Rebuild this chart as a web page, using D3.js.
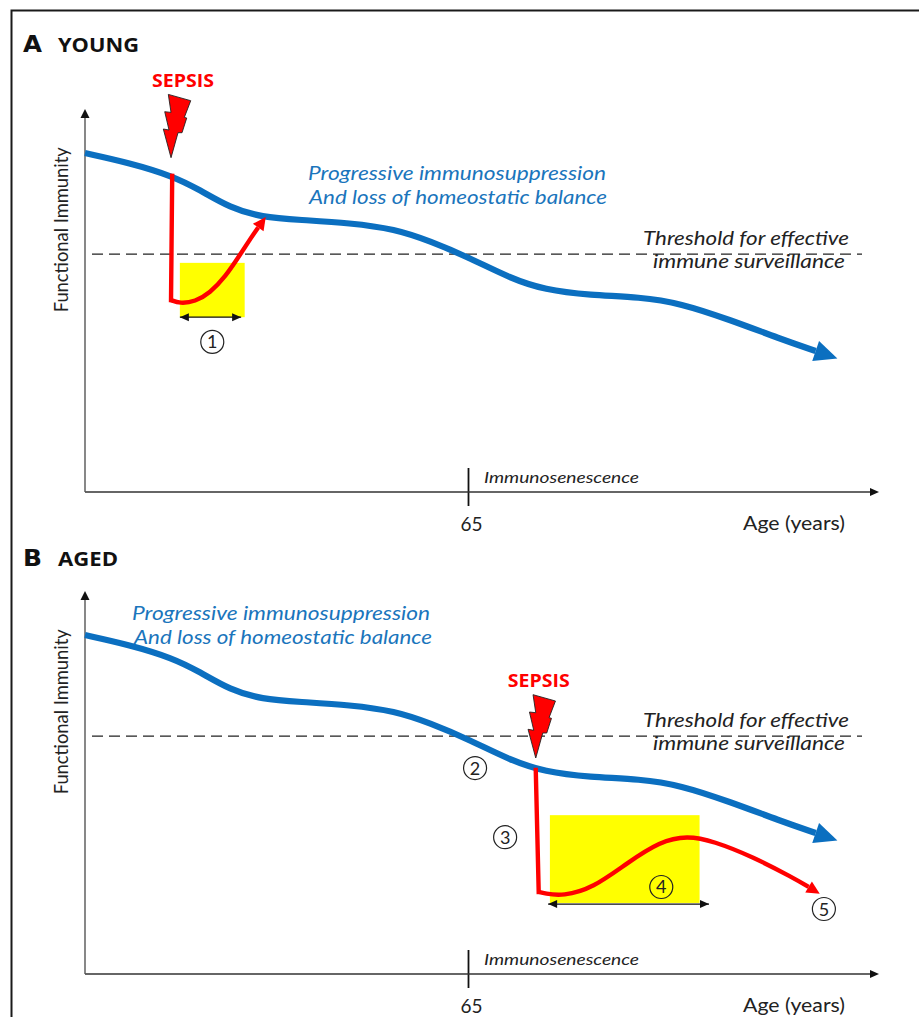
<!DOCTYPE html>
<html><head><meta charset="utf-8">
<script src="https://cdn.jsdelivr.net/npm/d3@7"></script>
<style>html,body{margin:0;padding:0;background:#fff}svg{display:block}text{font-family:Lato,sans-serif}</style>
</head><body><svg id="c" width="920" height="1017"></svg>
<script>
const panels=[{id:"A",title:"YOUNG",titleWidth:81},{id:"B",title:"AGED",titleWidth:60}];
const blueAges=[0,7.6,14.8,19.5,24.6,30,36.5,45,52.6,58.6,65.3,72.1,78,85.7,94.2,101,109.5,118,124];
const blueImmunity=[89.2,86.6,83.2,79.5,74.8,72.3,71.6,70.8,69.2,66,61.6,56.3,53.2,51.8,51.3,49.7,45.3,40.3,37.1];
const threshold=62.6;
const tickAge=65;
const redYoungDropAges=[14.8,14.6];
const redYoungDropImmunity=[83.2,50.5];
const redYoungAges=[14.6,16.1,18.7,21.2,23.8,26.3,28.3,29.4];
const redYoungImmunity=[50.5,49.6,50.1,52.4,56.6,62.4,67.2,69.6];
const redAgedDropAges=[76.5,77];
const redAgedDropImmunity=[53.7,21.6];
const redAgedAges=[77,78,81.1,86.2,92,97.6,102.2,106.6,113.4,120.2,122.8];
const redAgedImmunity=[21.6,21.2,20.5,22.6,29.2,34.9,36.4,35,30.8,25.3,22.9];
const yellowYoung={a0:16.1,a1:27.1,i0:46,i1:60.3};
const yellowAged={a0:78.9,a1:104.3,i0:18.7,i1:41.8};
const spanYoung={a0:16.1,a1:26.5,i:46};
const spanAged={a0:78.6,a1:105.9,i:18.4};
const circledYoung=[{n:"1",a:21.6,i:39.5}];
const circledAged=[{n:"2",a:66.2,i:54.2},{n:"3",a:71.3,i:36},{n:"4",a:97.8,i:22.9},{n:"5",a:125.4,i:17.1}];
const sepsisYoungAge=14.6, sepsisAgedAge=76.5;

const svg=d3.select("#c");
const ink="#111";
const x=d3.scaleLinear().domain([0,130]).range([85,851]);
const y=d3.scaleLinear().domain([0,100]).range([380,0]);
const curve=d3.line().x(d=>x(d[0])).y(d=>y(d[1])).curve(d3.curveBasis);
const straight=d3.line().x(d=>x(d[0])).y(d=>y(d[1]));

svg.append("path").attr("d","M11.5,1017V10.5H919").attr("fill","none").attr("stroke","#1a1a1a").attr("stroke-width",2);

function label(g,px,py,str,size,width,opts={}){
  const t=g.append("text").attr("x",px).attr("y",py).attr("font-size",size).attr("fill",opts.fill||"#222").text(str)
    .attr("textLength",width).attr("lengthAdjust","spacingAndGlyphs");
  if(opts.italic)t.attr("font-style","italic");
  if(opts.bold)t.attr("font-weight",700);
  if(opts.family)t.style("font-family",opts.family);
  return t;
}
function head(g,p0,p1,len,wid,fill){
  const ang=Math.atan2(p1[1]-p0[1],p1[0]-p0[0])*180/Math.PI;
  g.append("path").attr("d",`M${len},0L0,${-wid/2}L0,${wid/2}Z`).attr("fill",fill)
   .attr("transform",`translate(${p1[0]},${p1[1]}) rotate(${ang})`);
}
function arrowLine(g,ages,imm,color,w,len,wid){
  const pts=ages.map((a,i)=>[a,imm[i]]);
  g.append("path").attr("d",curve(pts)).attr("fill","none").attr("stroke",color).attr("stroke-width",w);
  const n=pts.length;
  head(g,[x(pts[n-2][0]),y(pts[n-2][1])],[x(pts[n-1][0]),y(pts[n-1][1])],len,wid,color);
}
function drop(g,ages,imm,color,w){
  g.append("path").attr("d",straight(ages.map((a,i)=>[a,imm[i]]))).attr("fill","none").attr("stroke",color).attr("stroke-width",w).attr("stroke-linecap","square");
}
const boltShape=[[-2.7,-63.3],[19.7,-57],[13.3,-40.3],[15.7,-39.7],[11,-25],[7,-25],[0,0],[-7.7,-28.7],[-2,-27.7],[-6.3,-46],[0,-45.3]];
function bolt(g,a,tipY){
  const tx=x(a);
  g.append("path").attr("d",d3.line()(boltShape.map(p=>[tx+p[0],tipY+p[1]]))+"Z").attr("fill","#f00").attr("stroke","#222").attr("stroke-width",.9);
}
function circled(g,c){
  const cx=x(c.a), cy=y(c.i);
  g.append("circle").attr("cx",cx).attr("cy",cy).attr("r",11.5).attr("fill","none").attr("stroke","#222").attr("stroke-width",1.2);
  g.append("text").attr("x",cx).attr("y",cy+6.5).attr("text-anchor","middle").attr("font-size",18).attr("fill","#222").text(c.n);
}
function rect(g,r){
  g.append("rect").attr("x",x(r.a0)).attr("y",y(r.i1)).attr("width",x(r.a1)-x(r.a0)).attr("height",y(r.i0)-y(r.i1)).attr("fill","#ffff00");
}
function span(g,s){
  const a=x(s.a0),b=x(s.a1),v=y(s.i);
  g.append("line").attr("x1",a).attr("x2",b).attr("y1",v).attr("y2",v).attr("stroke",ink).attr("stroke-width",1.2);
  head(g,[a+18,v],[a+9,v],9,8,ink); head(g,[b-18,v],[b-9,v],9,8,ink);
}
function blueLabel(g,px,py,dx){
  label(g,px,py,"Progressive immunosuppression",18.5,298,{italic:true,fill:"#1a75bc"});
  label(g,px+dx,py+24,"And loss of homeostatic balance",18.5,298,{italic:true,fill:"#1a75bc"});
}
function panel(p,offset,titleY){
  const g=svg.append("g").attr("transform",`translate(0,${offset})`);
  label(g,23,titleY,p.id,23,19,{bold:true,fill:ink,family:"'DejaVu Sans'"});
  label(g,58,titleY,p.title,19,p.titleWidth,{bold:true,fill:ink,family:"'Open Sans'"});
  const xAxis=d3.axisBottom(x).tickValues([tickAge]).tickSize(14).tickFormat(d3.format("d"));
  const ag=g.append("g").attr("transform",`translate(0,${y(0)})`).call(xAxis);
  ag.select(".domain").remove();
  ag.selectAll(".tick line").attr("y1",-24).attr("y2",14).attr("stroke",ink).attr("stroke-width",1.8);
  ag.selectAll(".tick text").attr("y",26).attr("dy",".71em").attr("dx",3).attr("font-size",19).style("font-family","Lato").attr("fill","#222");
  g.append("line").attr("x1",x(0)).attr("x2",871).attr("y1",y(0)).attr("y2",y(0)).attr("stroke","#333").attr("stroke-width",1.4);
  head(g,[860,y(0)],[870,y(0)],9,8,ink);
  g.append("line").attr("x1",x(0)).attr("x2",x(0)).attr("y1",y(0)).attr("y2",y(100)+6).attr("stroke","#555").attr("stroke-width",1.4);
  head(g,[x(0),y(100)+16],[x(0),y(100)+6],9,9,ink);
  label(g,0,0,"Functional Immunity",18.5,165).attr("transform",`translate(68,${y(69)}) rotate(-90)`).attr("text-anchor","middle");
  label(g,743,y(0)+38,"Age (years)",18.5,102);
  label(g,484,y(0)-9,"Immunosenescence",15,155,{italic:true});
  return g;
}
function thresholdLayer(g){
  g.append("line").attr("x1",92).attr("x2",862).attr("y1",y(threshold)).attr("y2",y(threshold)).attr("stroke","#222").attr("stroke-width",1.2).attr("stroke-dasharray","11,6");
  label(g,643,y(threshold)-9,"Threshold for effective",18.5,206,{italic:true});
  label(g,653,y(threshold)+14,"immune surveillance",18.5,192,{italic:true});
}
function sepsis(g,a,tipY,dx){
  bolt(g,a,tipY);
  label(g,x(a)+dx-31,tipY-71,"SEPSIS",18,62,{bold:true,fill:"#f00",family:"'Open Sans'"});
}

const A=panel(panels[0],112,-60);
rect(A,yellowYoung);
thresholdLayer(A);
arrowLine(A,blueAges,blueImmunity,"#0b6fc0",6.2,23,21);
drop(A,redYoungDropAges,redYoungDropImmunity,"#f00",4.4);
arrowLine(A,redYoungAges,redYoungImmunity,"#f00",4.4,13,13);
span(A,spanYoung);
circledYoung.forEach(c=>circled(A,c));
sepsis(A,sepsisYoungAge,45.7,12);
blueLabel(A,308,68,1);

const B=panel(panels[1],594,-28);
rect(B,yellowAged);
thresholdLayer(B);
arrowLine(B,blueAges,blueImmunity,"#0b6fc0",6.2,23,21);
drop(B,redAgedDropAges,redAgedDropImmunity,"#f00",4.4);
arrowLine(B,redAgedAges,redAgedImmunity,"#f00",4.4,13,13);
span(B,spanAged);
circledAged.forEach(c=>circled(B,c));
sepsis(B,sepsisAgedAge,164,3);
blueLabel(B,132,26,2);
</script></body></html>
